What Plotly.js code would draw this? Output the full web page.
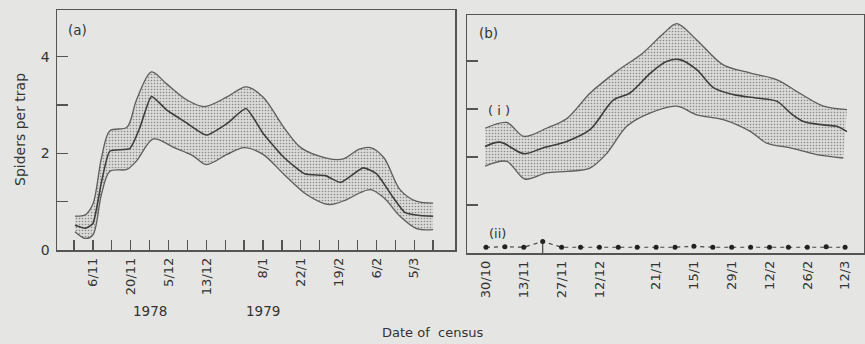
<!DOCTYPE html>
<html><head><meta charset="utf-8">
<script src="https://cdn.plot.ly/plotly-3.0.1.min.js"></script>
<style>html,body{margin:0;padding:0;background:#e5e5e3;}#chart{width:865px;height:344px;}</style>
</head><body><div id="chart"></div>
<script>
// ---- Panel (a) data (x = census index) ----
var aMeanX = [0.05,0.6,1.0,1.45,1.9,2.95,3.5,4.1,4.9,6.0,7.0,8.1,9.1,10.0,11.1,12.2,13.3,14.1,15.3,16.0,16.9,17.5,18.2,19.0];
var aMeanY = [0.51,0.45,0.55,1.40,2.05,2.10,2.55,3.18,2.90,2.62,2.38,2.62,2.93,2.42,1.92,1.58,1.54,1.40,1.70,1.58,1.08,0.78,0.72,0.70];
var aUpX = [0.05,0.6,1.0,1.45,1.9,2.8,3.3,4.1,4.9,6.0,6.9,8.1,9.1,10.0,11.1,12.0,13.3,14.2,15.1,15.7,16.4,17.25,18.1,19.0];
var aUpY = [0.70,0.73,0.95,1.90,2.47,2.54,3.10,3.69,3.44,3.10,2.97,3.17,3.38,3.17,2.54,2.12,1.91,1.88,2.09,2.12,1.91,1.25,1.01,0.97];
var aLoX = [0.05,0.6,1.0,1.45,1.9,2.8,3.3,4.2,5.3,6.3,7.0,8.1,9.0,10.0,11.1,12.3,13.5,14.4,15.1,15.7,16.4,17.25,18.1,19.0];
var aLoY = [0.38,0.24,0.31,1.15,1.63,1.67,1.84,2.30,2.12,1.95,1.77,1.98,2.12,1.98,1.57,1.15,0.94,1.04,1.18,1.25,1.08,0.70,0.45,0.42];
var aTickVals = [0,1,2,3,4,5,6,7,8,9,10,11,12,13,14,15,16,17,18,19];
var aTickText = ['','6/11','','20/11','','5/12','','13/12','','','8/1','','22/1','','19/2','','6/2','','5/3',''];
var aYTickVals = [0,1,2,3,4];
var aYTickText = ['0','','2','','4'];

// ---- Panel (b) data ----
var bMeanX = [-0.05,0.75,2.0,3.0,4.3,5.5,6.75,7.6,8.7,9.55,10.25,11.15,12.05,13.1,14.3,15.4,16.1,16.8,17.85,18.55,19.1];
var bMeanY = [2.22,2.31,2.07,2.19,2.33,2.57,3.19,3.33,3.75,3.99,4.03,3.82,3.44,3.30,3.23,3.16,2.92,2.74,2.67,2.64,2.53];
var bUpX = [-0.05,1.1,2.0,3.2,4.3,5.5,6.9,8.3,9.4,10.1,11.15,12.55,14.0,15.4,16.6,17.85,19.1];
var bUpY = [2.60,2.72,2.43,2.60,2.81,3.33,3.78,4.17,4.58,4.78,4.44,3.92,3.75,3.61,3.33,3.06,2.99];
var bLoX = [-0.05,1.1,2.05,3.2,4.3,5.5,6.4,7.45,8.7,10.1,11.15,12.55,14.0,14.85,16.1,17.5,18.9];
var bLoY = [1.81,1.91,1.54,1.67,1.70,1.77,2.08,2.64,2.92,3.06,2.88,2.78,2.53,2.29,2.19,2.05,1.98];
var bIIX = [0,1,2,3,4,5,6,7,8,9,10,11,12,13,14,15,16,17,18,19];
var bIIY = [0.12,0.13,0.12,0.24,0.12,0.12,0.12,0.12,0.12,0.12,0.12,0.14,0.12,0.12,0.12,0.12,0.12,0.12,0.13,0.12];
var bIIErrMinus = [0,0,0,0.24,0,0,0,0,0,0,0,0,0,0,0,0,0,0,0,0];
var bTickVals = [0,2,4,6,9,11,13,15,17,19];
var bTickText = ['30/10','13/11','27/11','12/12','21/1','15/1','29/1','12/2','26/2','12/3'];
var bYTickVals = [1,2,3,4];

var W = 865, H = 344;
function fx(p){return p/W;}
function fy(p){return 1-p/H;}
var FONT = 'DejaVu Sans, Verdana, sans-serif';

var bandLine = {color:'#5e5e5e', width:1.3, shape:'spline', smoothing:0.9};
var meanLine = {color:'#3e3e3e', width:1.6, shape:'spline', smoothing:0.5};
var pattern = {shape:'.', size:3, solidity:0.22, fgcolor:'#8a8a8a', bgcolor:'#dadad8', fillmode:'replace'};

var traces = [
  {x:aLoX, y:aLoY, xaxis:'x', yaxis:'y', mode:'lines', line:bandLine, hoverinfo:'skip'},
  {x:aUpX, y:aUpY, xaxis:'x', yaxis:'y', mode:'lines', line:bandLine, fill:'tonexty', fillcolor:'#dadad8', fillpattern:pattern, hoverinfo:'skip'},
  {x:aMeanX, y:aMeanY, xaxis:'x', yaxis:'y', mode:'lines', line:meanLine},
  {x:bLoX, y:bLoY, xaxis:'x2', yaxis:'y2', mode:'lines', line:bandLine, hoverinfo:'skip'},
  {x:bUpX, y:bUpY, xaxis:'x2', yaxis:'y2', mode:'lines', line:bandLine, fill:'tonexty', fillcolor:'#dadad8', fillpattern:pattern, hoverinfo:'skip'},
  {x:bMeanX, y:bMeanY, xaxis:'x2', yaxis:'y2', mode:'lines', line:{color:'#3e3e3e', width:1.6, shape:'spline', smoothing:0.9}},
  {x:bIIX, y:bIIY, xaxis:'x2', yaxis:'y2', mode:'lines+markers',
   line:{color:'#444', width:1.2, dash:'4px,4px'}, marker:{color:'#222', size:5},
   error_y:{type:'data', symmetric:false, array:bIIErrMinus.map(function(){return 0;}), arrayminus:bIIErrMinus, width:0, color:'#444', thickness:1.2}}
];

var axBase = {showgrid:false, zeroline:false, showline:true, linecolor:'#555', linewidth:1.5,
  ticks:'inside', tickcolor:'#555', tickwidth:1.3, ticklen:10, mirror:true, fixedrange:true,
  tickfont:{family:FONT, size:13, color:'#333'}};

function ann(text, x, y, size, extra){
  var a = {text:text, x:fx(x), y:fy(y), xref:'paper', yref:'paper', xanchor:'center', yanchor:'middle',
    showarrow:false, font:{family:FONT, size:size, color:'#333'}};
  return Object.assign(a, extra || {});
}

var layout = {
  width:W, height:H, margin:{l:0,r:0,t:0,b:0},
  paper_bgcolor:'#e5e5e3', plot_bgcolor:'rgba(0,0,0,0)', showlegend:false,
  xaxis:Object.assign({}, axBase, {domain:[fx(57),fx(455)], range:[-0.9,20.16], tickmode:'array', tickvals:aTickVals, ticktext:aTickText, tickangle:-90, anchor:'y', ticklabelstandoff:1}),
  yaxis:Object.assign({}, axBase, {domain:[fy(250),fy(10)], range:[0,4.97], tickmode:'array', tickvals:aYTickVals, ticktext:aYTickText, anchor:'x', ticklen:11, ticklabelstandoff:3, tickfont:{family:FONT, size:14, color:'#333'}}),
  xaxis2:Object.assign({}, axBase, {domain:[fx(467),fx(864)], range:[-1.005,20.0], tickmode:'array', tickvals:bTickVals, ticktext:bTickText, tickangle:-90, ticks:'', anchor:'y2', ticklabelstandoff:1}),
  yaxis2:Object.assign({}, axBase, {domain:[fy(253),fy(15)], range:[0,4.96], tickmode:'array', tickvals:bYTickVals, showticklabels:false, anchor:'x2', ticklen:11}),
  yaxis3:{overlaying:'y2', side:'right', anchor:'x2', range:[0.104,5.064], tickmode:'array', tickvals:bYTickVals, showticklabels:false,
    ticks:'inside', ticklen:11, tickcolor:'#555', tickwidth:1.3, showline:false, showgrid:false, zeroline:false, fixedrange:true},
  annotations:[
    ann('(a)', 77, 30, 13.5),
    ann('(b)', 488, 33, 13.5),
    ann('( i )', 499, 110, 13),
    ann('(ii)', 497, 233, 13),
    ann('1978', 150, 311, 13.5),
    ann('1979', 263, 311, 13.5),
    ann('Date of  census', 432, 332, 13),
    ann('Spiders per trap', 20, 130, 14, {textangle:-90})
  ]
};

Plotly.newPlot('chart', traces, layout, {staticPlot:true, displayModeBar:false});
</script></body></html>
